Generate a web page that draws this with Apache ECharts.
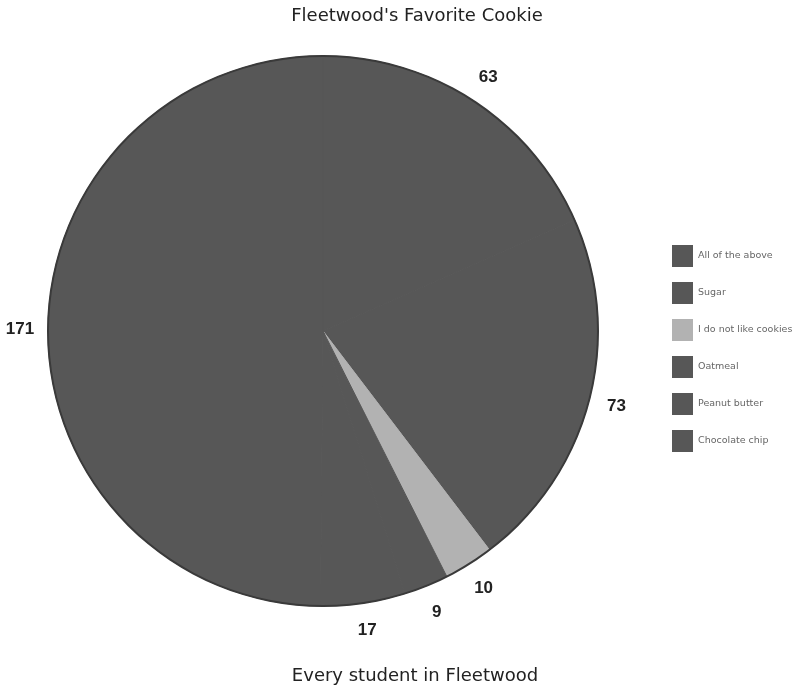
<!DOCTYPE html>
<html><head><meta charset="utf-8">
<script src="https://cdn.jsdelivr.net/npm/echarts@6/dist/echarts.min.js"></script>
<style>html,body{margin:0;padding:0;background:#fff}#c{width:803px;height:687px}</style>
</head><body><div id="c"></div>
<script>
const categories = ["All of the above","Sugar","I do not like cookies","Oatmeal","Peanut butter","Chocolate chip"];
const values = [63,73,10,9,17,171];
const colors = ["#575757","#575757","#b2b2b2","#575757","#575757","#575757"];
const titleText = "Fleetwood's Favorite Cookie";
const subtitleText = "Every student in Fleetwood";

const chart = echarts.init(document.getElementById('c'));
chart.setOption({
  animation:false,
  backgroundColor:'#fff',
  title:[
    {text:titleText,left:412,textAlign:'center',top:2,textStyle:{fontFamily:'DejaVu Sans',fontSize:18,fontWeight:'normal',color:'#222'}},
    {text:subtitleText,left:410,textAlign:'center',top:662,textStyle:{fontFamily:'DejaVu Sans',fontSize:18,fontWeight:'normal',color:'#222'}}
  ],
  legend:{
    orient:'vertical',left:667,top:240,itemWidth:21,itemHeight:22,itemGap:15,icon:'rect',itemStyle:{borderWidth:0},
    textStyle:{fontFamily:'DejaVu Sans',fontSize:9.5,color:'#666'},
    data:categories
  },
  series:[{
    type:'pie',center:[323,331],radius:275,startAngle:90,clockwise:true,
    label:{show:false},labelLine:{show:false},
    data:categories.map((n,i)=>({name:n,value:values[i],itemStyle:{color:colors[i],borderColor:colors[i],borderWidth:1}}))
  },{
    type:'pie',center:[323,331],radius:[274,276],silent:true,startAngle:90,
    label:{show:false},labelLine:{show:false},
    itemStyle:{color:'#3a3a3a',borderWidth:0},
    data:[{name:'edge',value:values.reduce((a,b)=>a+b,0)}]
  },{
    type:'pie',center:[323,331],radius:[290,310],silent:true,startAngle:90,clockwise:true,
    itemStyle:{color:'rgba(0,0,0,0)',borderWidth:0},
    label:{show:true,position:'inside',formatter:'{c}',fontFamily:'Liberation Sans',fontSize:17,fontWeight:'bold',color:'#222'},
    labelLine:{show:false},
    data:categories.map((n,i)=>({name:n+' ',value:values[i]}))
  }]
});
</script></body></html>
